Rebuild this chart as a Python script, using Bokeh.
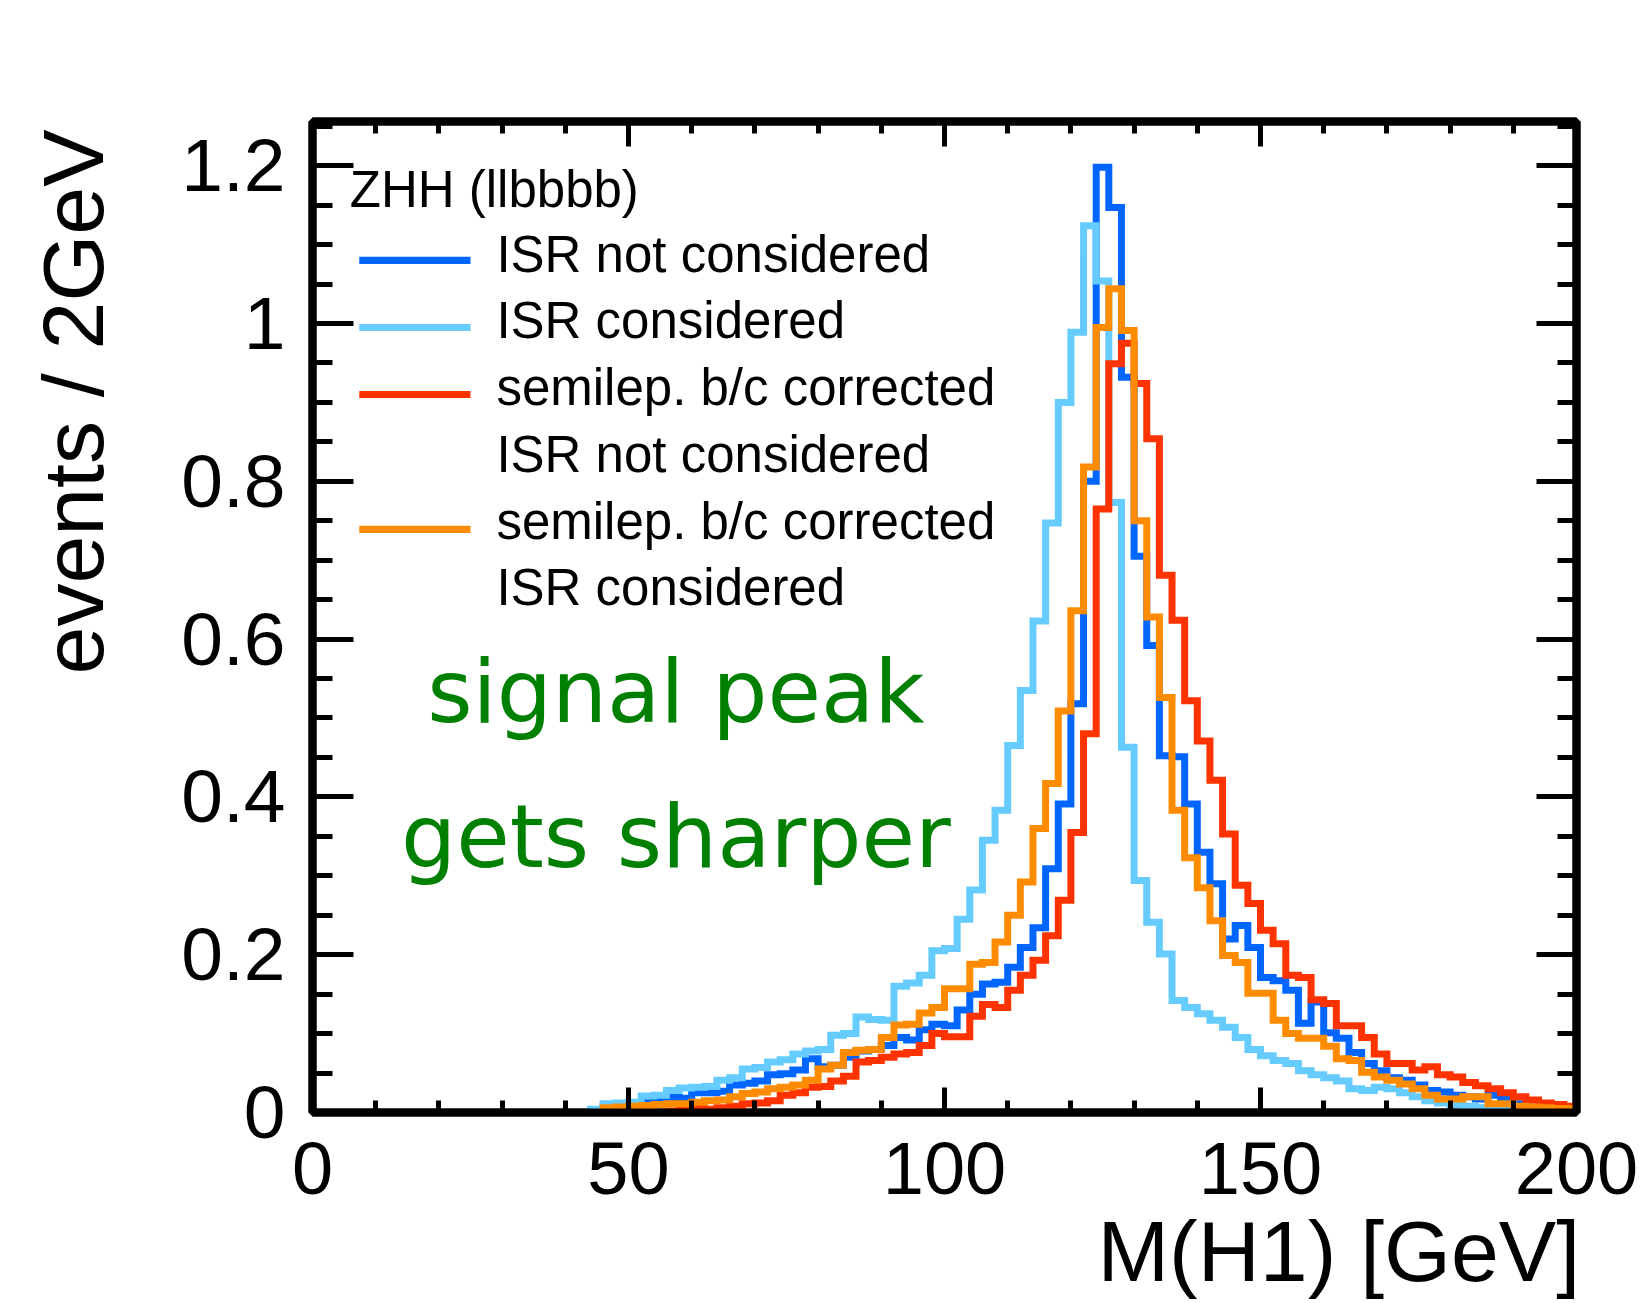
import numpy as np
from bokeh.plotting import figure
from bokeh.models import (Range1d, LinearAxis, FixedTicker, CustomJSTickFormatter,
                          Label, BoxAnnotation)
from bokeh.embed import file_html
from bokeh.resources import INLINE

# ---------------- data (events / 2 GeV, bins of 2 GeV from 0 to 200) ----------------
bin_width = 2.0
x_min, x_max = 0.0, 200.0
# bins 0..44 GeV are empty for every sample
empty_bins = [0.0] * 22

# values from the 44-46 GeV bin up to the 198-200 GeV bin
isr_not_considered = empty_bins + [
    0.000, 0.008, 0.009, 0.010, 0.013, 0.014, 0.019, 0.018, 0.025, 0.025,
    0.027, 0.035, 0.037, 0.040, 0.048, 0.049, 0.054, 0.068, 0.058, 0.060,
    0.070, 0.078, 0.080, 0.085, 0.095, 0.092, 0.105, 0.112, 0.110, 0.130,
    0.150, 0.163, 0.165, 0.184, 0.209, 0.234, 0.309, 0.391, 0.518, 0.800,
    1.198, 1.147, 0.932, 0.705, 0.592, 0.452, 0.451, 0.391, 0.330, 0.290,
    0.220, 0.237, 0.209, 0.171, 0.167, 0.155, 0.113, 0.140, 0.101, 0.094,
    0.076, 0.062, 0.053, 0.044, 0.041, 0.035, 0.028, 0.026, 0.022, 0.020,
    0.017, 0.022, 0.017, 0.011, 0.007, 0.005, 0.003, 0.002]

isr_considered = empty_bins + [
    0.004, 0.011, 0.012, 0.013, 0.021, 0.022, 0.028, 0.031, 0.032, 0.033,
    0.041, 0.044, 0.055, 0.057, 0.064, 0.067, 0.074, 0.078, 0.080, 0.098,
    0.100, 0.121, 0.118, 0.117, 0.160, 0.164, 0.174, 0.205, 0.208, 0.245,
    0.282, 0.345, 0.383, 0.465, 0.535, 0.623, 0.747, 0.900, 0.989, 1.124,
    1.054, 0.773, 0.463, 0.294, 0.241, 0.201, 0.142, 0.133, 0.125, 0.117,
    0.108, 0.095, 0.080, 0.072, 0.066, 0.062, 0.053, 0.048, 0.044, 0.040,
    0.030, 0.028, 0.032, 0.030, 0.025, 0.020, 0.015, 0.012, 0.010, 0.008,
    0.006, 0.005, 0.004, 0.003, 0.002, 0.001, 0.001, 0.000]

semilep_isr_not = empty_bins + [
    0.000, 0.000, 0.000, 0.000, 0.000, 0.000, 0.002, 0.004, 0.005, 0.004,
    0.006, 0.008, 0.011, 0.012, 0.015, 0.022, 0.025, 0.032, 0.033, 0.040,
    0.046, 0.064, 0.066, 0.070, 0.074, 0.076, 0.085, 0.100, 0.096, 0.096,
    0.122, 0.137, 0.133, 0.155, 0.174, 0.193, 0.224, 0.269, 0.355, 0.480,
    0.765, 0.949, 0.975, 0.924, 0.854, 0.681, 0.624, 0.522, 0.471, 0.421,
    0.353, 0.288, 0.265, 0.231, 0.214, 0.174, 0.171, 0.143, 0.138, 0.110,
    0.110, 0.095, 0.074, 0.062, 0.062, 0.054, 0.058, 0.048, 0.045, 0.038,
    0.034, 0.030, 0.025, 0.020, 0.016, 0.012, 0.010, 0.008]

semilep_isr_cons = empty_bins + [
    0.000, 0.006, 0.007, 0.008, 0.009, 0.010, 0.011, 0.011, 0.013, 0.015,
    0.016, 0.020, 0.024, 0.026, 0.030, 0.032, 0.035, 0.041, 0.055, 0.060,
    0.076, 0.079, 0.080, 0.095, 0.111, 0.112, 0.126, 0.133, 0.157, 0.157,
    0.188, 0.190, 0.216, 0.250, 0.292, 0.360, 0.417, 0.509, 0.636, 0.818,
    0.995, 1.044, 0.991, 0.750, 0.628, 0.526, 0.383, 0.323, 0.285, 0.243,
    0.199, 0.190, 0.151, 0.151, 0.117, 0.100, 0.094, 0.094, 0.084, 0.068,
    0.066, 0.051, 0.045, 0.041, 0.036, 0.030, 0.022, 0.017, 0.017, 0.020,
    0.020, 0.011, 0.011, 0.008, 0.007, 0.006, 0.005, 0.005]

series_colors = ["#0066FF", "#66CCFF", "#FF3300", "#FF8C00"]
series_values = [isr_not_considered, isr_considered, semilep_isr_not, semilep_isr_cons]

x_ticks = [0, 50, 100, 150, 200]
x_minor = [v for v in range(0, 201, 10)]
y_ticks = [0, 0.2, 0.4, 0.6, 0.8, 1.0, 1.2]
y_minor = [round(0.05 * k, 2) for k in range(0, 26)]

x_title = "M(H1) [GeV]"
y_title = "events / 2GeV"
legend_header = "ZHH (llbbbb)"
legend_rows = ["ISR not considered", "ISR considered", "semilep. b/c corrected",
               "ISR not considered", "semilep. b/c corrected", "ISR considered"]
note_lines = ["signal peak", "gets sharper"]

# ---------------- figure ----------------
W, H = 1640, 1302
FL, FR, FT, FB = 312, 1576, 121, 1112       # frame edges in canvas pixels
p = figure(width=W, height=H, x_range=Range1d(x_min, x_max), y_range=Range1d(0, 1.256),
           output_backend="svg", toolbar_location=None,
           min_border_left=FL, min_border_right=W - FR, min_border_top=FT, min_border_bottom=H - FB)
p.xgrid.visible = False
p.ygrid.visible = False
p.outline_line_color = "black"
p.outline_line_width = 8
p.background_fill_color = "white"
p.border_fill_color = "white"

FONT = "Liberation Sans"
PX_PER_UNIT = (FB - FT) / 1.256


def style_axis(ax, ticks, minor, major_in, minor_in, labels, standoff=20, size="74px"):
    ax.ticker = FixedTicker(ticks=ticks, minor_ticks=minor)
    ax.major_tick_in = major_in
    ax.major_tick_out = 0
    ax.minor_tick_in = minor_in
    ax.minor_tick_out = 0
    ax.major_tick_line_width = 5
    ax.minor_tick_line_width = 5
    ax.major_tick_line_color = "black"
    ax.minor_tick_line_color = "black"
    ax.axis_line_color = "black"
    ax.axis_line_width = 8
    ax.major_label_text_font = FONT
    ax.major_label_text_font_size = size
    ax.major_label_text_color = "black"
    ax.major_label_standoff = standoff
    if labels:
        ax.formatter = CustomJSTickFormatter(code="return String(tick);")
    else:
        ax.formatter = CustomJSTickFormatter(code="return '';")
        ax.major_label_text_font_size = "1px"
        ax.major_label_standoff = 0


xax = p.xaxis[0]
yax = p.yaxis[0]
style_axis(xax, x_ticks, x_minor, 25, 12, True, standoff=30, size="74px")
style_axis(yax, y_ticks, y_minor, 41, 20, True, standoff=27, size="75px")

top_axis = LinearAxis()
style_axis(top_axis, x_ticks, x_minor, 25, 12, False)
p.add_layout(top_axis, "above")
right_axis = LinearAxis()
style_axis(right_axis, y_ticks, y_minor, 40, 19, False)
p.add_layout(right_axis, "right")

# ---------------- axis titles ----------------
# Bokeh centres axis titles; ROOT puts them at the end of the axis, so the centred title is
# led by no-break spaces that push the visible words to the right (x) / top (y) end.
NBSP = "\u00a0"
for ax, std in ((xax, 6), (yax, 57)):
    ax.axis_label_text_font = FONT
    ax.axis_label_text_font_size = "86px"
    ax.axis_label_text_font_style = "normal"
    ax.axis_label_text_color = "black"
    ax.axis_label_standoff = std
xax.axis_label = NBSP * 33 + x_title
yax.axis_label = NBSP * 18 + y_title

# ---------------- histograms ----------------
edges = np.arange(x_min, x_max + bin_width / 2, bin_width)
for vals, col in zip(series_values, series_colors):
    yv = list(vals) + [vals[-1]]
    p.step(edges, yv, mode="after", line_color=col, line_width=7, line_join="miter")


def text_label(x, y_base, text, font, size_px, color, align="left"):
    # y_base is the wanted baseline; the renderer puts the baseline ~0.375 em below the anchor
    y_anchor = y_base + 0.375 * size_px / PX_PER_UNIT
    return Label(x=x, y=y_anchor, text=text, text_font=font, text_font_size=f"{size_px}px",
                 text_align=align, text_baseline="alphabetic", text_color=color)


# ---------------- legend (drawn by hand, ROOT style) ----------------
p.add_layout(text_label(5.9, 1.146, legend_header, FONT, 51, "black"))
row_base = [1.063, 0.979, 0.894, 0.810, 0.725, 0.641]
for yb, t in zip(row_base, legend_rows):
    p.add_layout(text_label(29.1, yb, t, FONT, 51, "black"))
sample_y = [1.080, 0.995, 0.910, 0.739]
for yc, col in zip(sample_y, series_colors):
    p.add_layout(BoxAnnotation(left=7.4, right=25.0, bottom=yc - 0.0045, top=yc + 0.0045,
                               fill_color=col, fill_alpha=1.0, line_color=None))

# ---------------- green note ----------------
p.add_layout(text_label(57.5, 0.492, note_lines[0], "DejaVu Sans", 87, "#008000", "center"))
p.add_layout(text_label(57.5, 0.308, note_lines[1], "DejaVu Sans", 87, "#008000", "center"))

open("out.html", "w").write(file_html(p, INLINE))
